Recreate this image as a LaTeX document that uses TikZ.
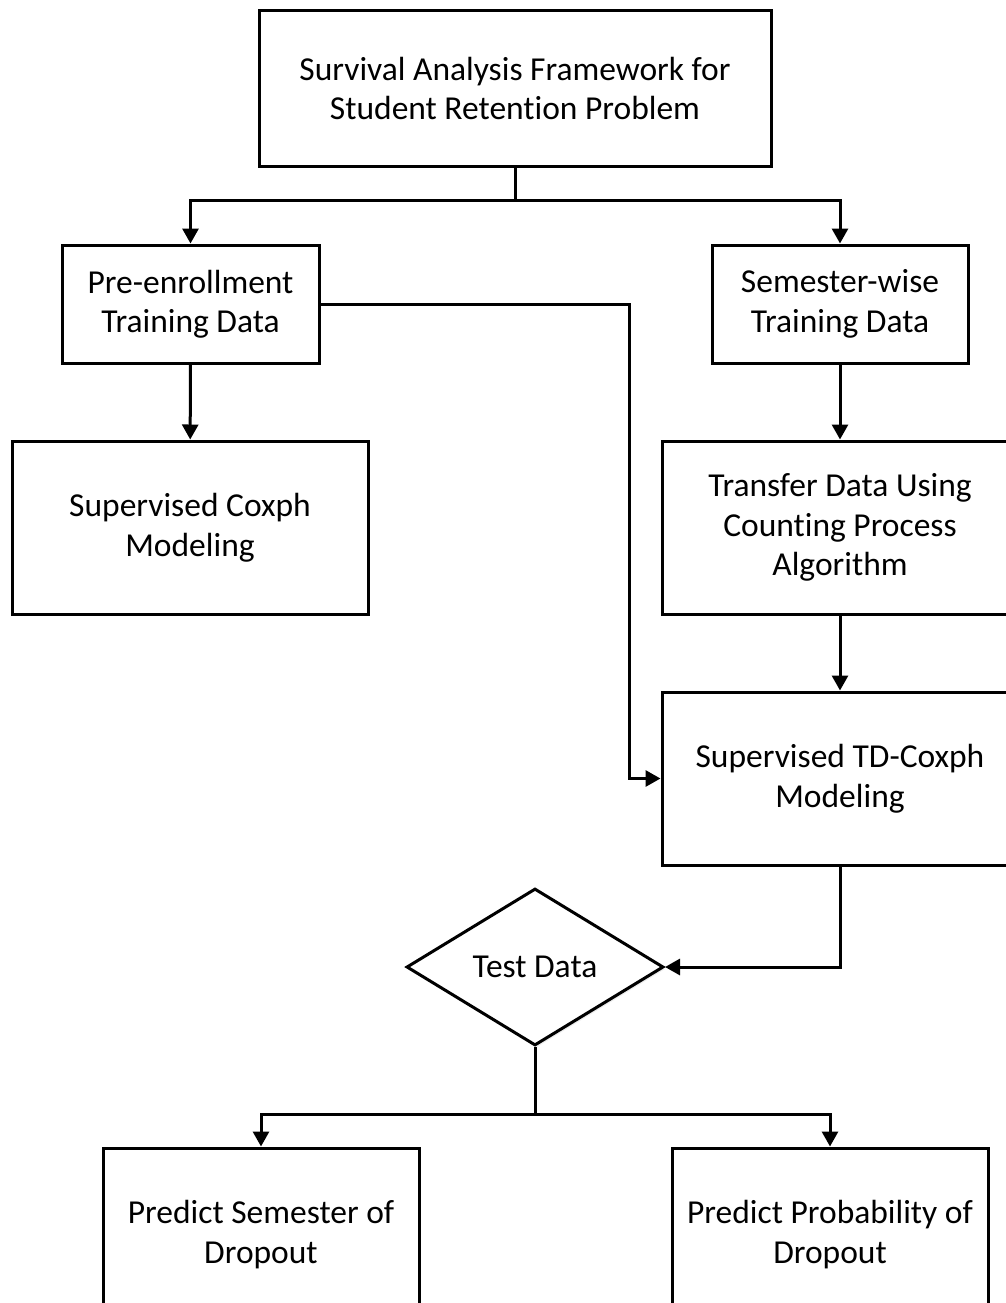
\documentclass[tikz,border=0pt]{standalone}
\usepackage{fontspec}
\setmainfont{Carlito}[Ligatures=NoCommon]
\usetikzlibrary{shapes.geometric,arrows.meta,shadows}
\begin{document}
\begin{tikzpicture}[x=1pt,y=-1pt,
  box/.style={draw, line width=3pt, fill=white, align=center, inner sep=0pt,
    font=\fontsize{33.5}{39.5}\selectfont,
    drop shadow={shadow xshift=2pt, shadow yshift=-2pt, fill=black!12, opacity=0.6}},
  arr/.style={line width=3pt, -{Triangle[length=15pt,width=16pt]}},
  ln/.style={line width=3pt}]
\useasboundingbox (0,0) rectangle (1006,1303);
\clip (0,0) rectangle (1006,1303);
\fill[white] (0,0) rectangle (1006,1303);

\node[box, minimum width=512pt, minimum height=155pt] (top) at (515,88.5)
  {Survival Analysis Framework for\\Student Retention Problem};
\node[box, minimum width=257pt, minimum height=118pt] (pre) at (190.5,304)
  {Pre-enrollment\\Training Data};
\node[box, minimum width=256pt, minimum height=118pt] (sem) at (840,304)
  {Semester-wise\\Training Data};
\node[box, minimum width=356pt, minimum height=173pt] (cox) at (190,527.5)
  {Supervised Coxph\\Modeling};
\node[box, minimum width=356pt, minimum height=173pt] (trans) at (840,527.5)
  {Transfer Data Using\\Counting Process\\Algorithm};
\node[box, minimum width=356pt, minimum height=173pt] (td) at (840,778.5)
  {Supervised TD-Coxph\\Modeling};
\node[box, shape=diamond, minimum width=257pt, minimum height=157pt] (dia) at (535,967)
  {Test Data};
\node[box, minimum width=316pt, minimum height=173pt] (p1) at (261,1234.5)
  {Predict Semester of\\Dropout};
\node[box, minimum width=316pt, minimum height=173pt] (p2) at (830,1234.5)
  {Predict Probability of\\Dropout};

\coordinate (j1) at (515,200);
\coordinate (c1) at (629,778.5);
\coordinate (j2) at (535,1114);

\draw[ln] (top.south) -- (j1);
\draw[arr] (j1) -| (pre.north);
\draw[arr] (j1) -| (sem.north);
\draw[arr] (pre) -- (cox);
\draw[arr] (sem) -- (trans);
\draw[arr] (trans) -- (td);
\draw[arr] (pre.east) -| (c1) -- (td.west);
\draw[arr] (td.south) |- (dia.east);
\draw[ln] (dia.south) -- (j2);
\draw[arr] (j2) -| (p1.north);
\draw[arr] (j2) -| (p2.north);
\end{tikzpicture}
\end{document}
